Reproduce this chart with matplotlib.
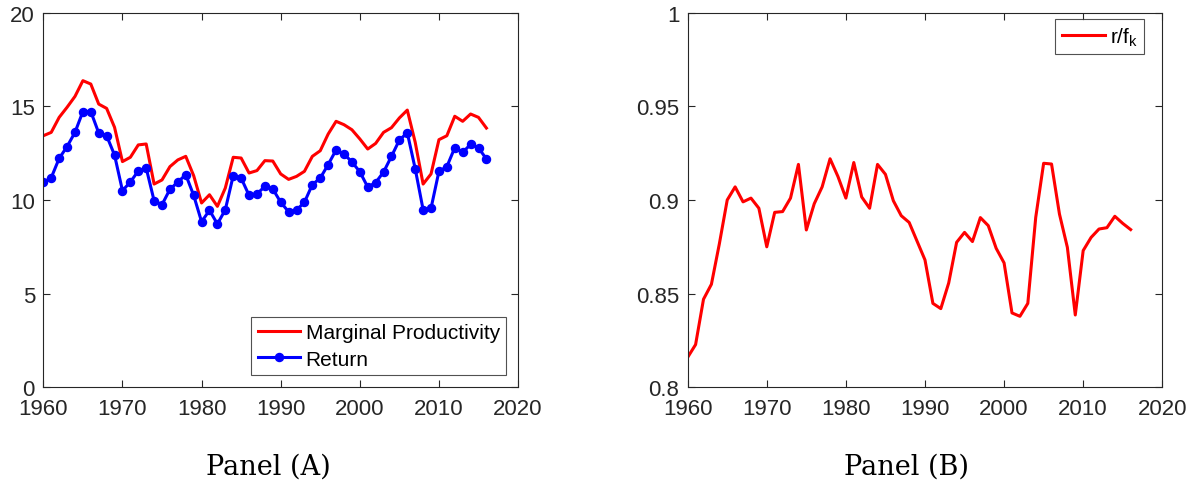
import matplotlib.pyplot as plt
import numpy as np
from matplotlib.ticker import FormatStrFormatter

years = np.arange(1960, 2017)

# Panel A: marginal productivity of capital and return (percent)
marginal = [13.43, 13.61, 14.41, 14.95, 15.53, 16.37, 16.19, 15.12, 14.89, 13.88,
            12.05, 12.28, 12.94, 12.99, 10.85, 11.07, 11.78, 12.14, 12.33, 11.30,
            9.84, 10.28, 9.66, 10.64, 12.28, 12.24, 11.44, 11.57, 12.10, 12.08,
            11.39, 11.10, 11.26, 11.53, 12.33, 12.63, 13.52, 14.20, 14.02, 13.75,
            13.26, 12.72, 13.02, 13.61, 13.86, 14.38, 14.80, 13.08, 10.85, 11.39,
            13.22, 13.43, 14.47, 14.20, 14.59, 14.41, 13.84]
ret = [10.94, 11.19, 12.22, 12.85, 13.61, 14.72, 14.72, 13.58, 13.43, 12.40,
       10.50, 10.96, 11.55, 11.71, 9.96, 9.75, 10.57, 10.96, 11.35, 10.25,
       8.84, 9.45, 8.72, 9.48, 11.30, 11.17, 10.25, 10.32, 10.73, 10.59,
       9.88, 9.37, 9.46, 9.88, 10.82, 11.17, 11.89, 12.67, 12.46, 12.03,
       11.51, 10.69, 10.93, 11.49, 12.33, 13.20, 13.59, 11.67, 9.48, 9.56,
       11.53, 11.78, 12.79, 12.54, 12.97, 12.78, 12.19]

# Panel B: ratio r / f_k
ratio = [0.816, 0.8228, 0.847, 0.855, 0.8765, 0.900, 0.907, 0.899, 0.901, 0.8956,
         0.875, 0.8934, 0.8938, 0.901, 0.919, 0.884, 0.898, 0.907, 0.922, 0.9125,
         0.901, 0.920, 0.9016, 0.8956, 0.919, 0.9137, 0.8996, 0.8916, 0.888, 0.878,
         0.868, 0.8448, 0.842, 0.8557, 0.8774, 0.8827, 0.8778, 0.8906, 0.8863, 0.8742,
         0.8664, 0.8397, 0.8379, 0.8448, 0.8907, 0.9196, 0.9192, 0.8925, 0.8747, 0.8386,
         0.873, 0.880, 0.8845, 0.8852, 0.8913, 0.8875, 0.8842]

xticks = [1960, 1970, 1980, 1990, 2000, 2010, 2020]
yticks_a = [0, 5, 10, 15, 20]
yticks_b = [0.8, 0.85, 0.9, 0.95, 1.0]

plt.rcParams['font.family'] = 'Liberation Sans'
plt.rcParams['mathtext.default'] = 'regular'
dark = '#262626'

fig = plt.figure(figsize=(11.97, 4.85), dpi=100)
axA = fig.add_axes([0.0362, 0.1994, 0.3966, 0.7724])
axB = fig.add_axes([0.5745, 0.1994, 0.3965, 0.7724])

axA.plot(years, marginal, color='#ff0000', lw=2.2, label='Marginal Productivity')
axA.plot(years, ret, color='#0000ff', lw=2.2, marker='o', ms=5.8,
         label='Return')
axB.plot(years, ratio, color='#ff0000', lw=2.2, label='r/f$_k$')

for ax, yt in ((axA, yticks_a), (axB, yticks_b)):
    ax.set_xlim(1960, 2020)
    ax.set_ylim(yt[0], yt[-1])
    ax.set_xticks(xticks)
    ax.set_yticks(yt)
    ax.yaxis.set_major_formatter(FormatStrFormatter('%g'))
    ax.tick_params(direction='in', top=True, right=True, length=5,
                   width=0.8, colors=dark, labelsize=16)
    ax.tick_params(axis='x', pad=8)
    ax.tick_params(axis='y', pad=6)
    for s in ax.spines.values():
        s.set_color(dark)
        s.set_linewidth(0.8)

legA = axA.legend(loc='lower right', bbox_to_anchor=(0.9748, 0.0328),
                  borderaxespad=0, fontsize=15, frameon=True, fancybox=False,
                  edgecolor=dark, handlelength=2.05, handletextpad=0.25,
                  labelspacing=0.35, borderpad=0.3)
legA.get_frame().set_linewidth(0.8)
legB = axB.legend(loc='upper right', bbox_to_anchor=(0.9614, 0.9832),
                  borderaxespad=0, fontsize=15, frameon=True, fancybox=False,
                  edgecolor=dark, handlelength=2.1, handletextpad=0.2,
                  borderpad=0.3)
legB.get_frame().set_linewidth(0.8)

fig.text(0.2245, 0.0206, 'Panel (A)', family='DejaVu Serif', fontsize=19.5,
         ha='center', va='baseline')
fig.text(0.7575, 0.0206, 'Panel (B)', family='DejaVu Serif', fontsize=19.5,
         ha='center', va='baseline')

fig.savefig('out.png', dpi=100)
